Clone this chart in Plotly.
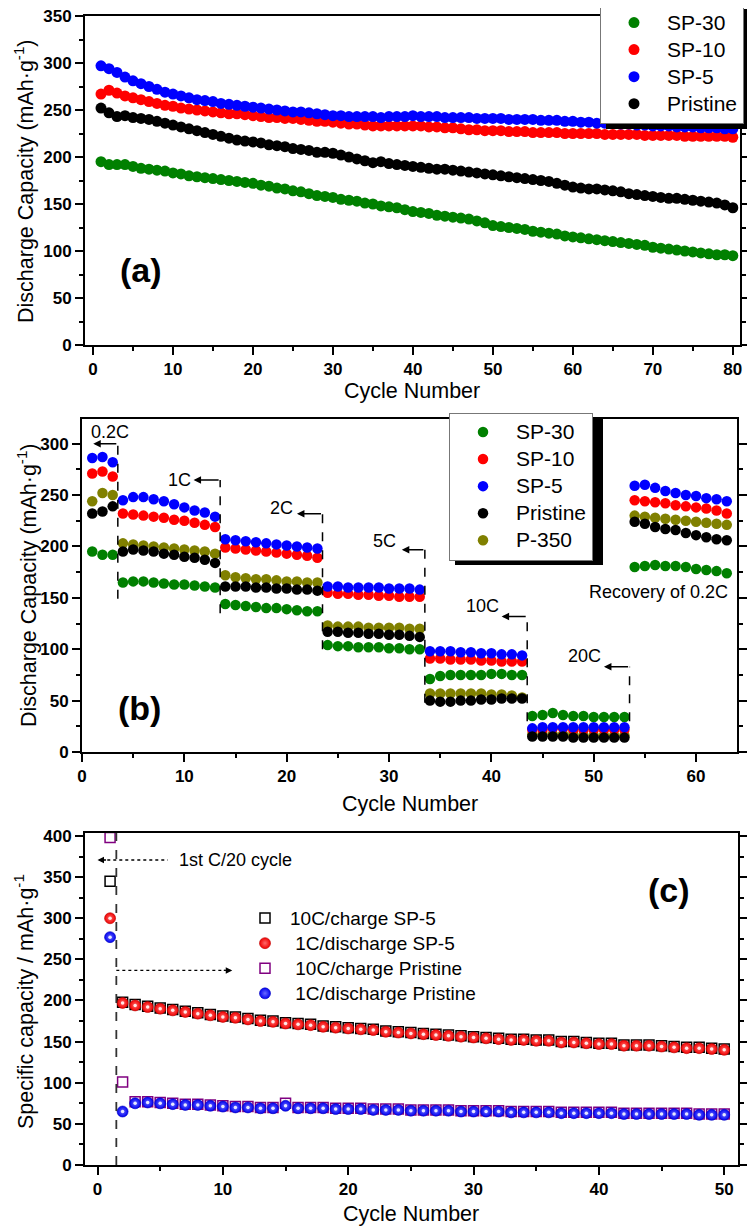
import plotly.graph_objects as go

# page body has an 8px margin: the figure is offset by 8px, so size/positions compensate for it
OFF = 8
W, H = 755 - OFF, 1230 - OFF
FONT = "Liberation Sans, Arial, sans-serif"

# ---------------- panel (a) data ----------------
cycles_a = list(range(1, 81))
sp30_a = [195, 192, 192, 192, 190, 188, 187, 186, 185, 183,
          182, 180, 179, 178, 177, 176, 175, 174, 173, 172,
          170, 169, 167, 166, 164, 163, 161, 159, 158, 157,
          155, 154, 153, 151, 150, 148, 147, 146, 144, 142,
          141, 140, 138, 137, 136, 135, 134, 132, 130, 127,
          126, 125, 124, 123, 121, 120, 119, 118, 116, 115,
          114, 113, 112, 111, 110, 109, 108, 107, 106, 104,
          103, 102, 101, 100, 99, 98, 97, 96, 96, 95]
sp10_a = [267, 271, 268, 265, 263, 261, 259, 257, 255, 254,
          252, 251, 250, 249, 248, 247, 246, 246, 245, 244,
          243, 242, 242, 241, 241, 240, 239, 238, 238, 237,
          236, 235, 235, 234, 233, 233, 233, 233, 233, 233,
          233, 232, 232, 231, 231, 230, 229, 229, 228, 228,
          228, 227, 227, 227, 226, 226, 226, 226, 225, 225,
          225, 225, 225, 224, 224, 224, 224, 224, 223, 223,
          223, 223, 223, 222, 222, 222, 222, 222, 222, 221]
sp5_a = [297, 294, 290, 285, 281, 278, 275, 272, 269, 267,
         265, 263, 261, 260, 259, 257, 256, 255, 254, 253,
         252, 251, 250, 249, 248, 248, 247, 246, 245, 244,
         244, 243, 243, 243, 243, 242, 243, 243, 243, 244,
         243, 243, 243, 242, 242, 242, 242, 241, 241, 241,
         241, 240, 240, 240, 240, 239, 239, 239, 238, 238,
         237, 237, 236, 236, 236, 235, 235, 234, 234, 233,
         233, 233, 232, 232, 232, 231, 231, 231, 230, 230]
pristine_a = [252, 247, 243, 244, 242, 241, 240, 238, 236, 234,
              232, 230, 228, 226, 224, 222, 220, 218, 217, 216,
              215, 213, 212, 211, 209, 208, 207, 205, 205, 204,
              202, 200, 198, 196, 194, 195, 193, 192, 191, 190,
              189, 188, 187, 187, 186, 185, 184, 183, 182, 181,
              180, 179, 178, 177, 176, 175, 174, 172, 170, 168,
              167, 166, 166, 165, 164, 163, 161, 160, 159, 158,
              157, 156, 156, 155, 154, 153, 152, 151, 149, 146]

# ---------------- panel (b) data ----------------
cycles_b = list(range(1, 64))
sp30_b = [195, 192, 192,
          165, 166, 166, 165, 164, 163, 163, 162, 161, 160,
          144, 143, 142, 141, 140, 140, 139, 138, 137, 137,
          104, 103, 103, 102, 102, 102, 101, 101, 100, 100,
          71, 74, 75, 75, 75, 75, 76, 76, 75, 75,
          35, 36, 38, 36, 35, 35, 34, 34, 34, 34,
          180, 181, 182, 181, 181, 180, 178, 177, 176, 174]
sp10_b = [271, 273, 268,
          232, 231, 230, 229, 228, 226, 225, 223, 221, 219,
          199, 198, 197, 196, 195, 194, 193, 192, 191, 189,
          155, 154, 154, 153, 153, 152, 152, 151, 151, 151,
          91, 91, 90, 90, 90, 89, 89, 88, 88, 88,
          22, 22, 23, 23, 22, 22, 22, 22, 22, 22,
          245, 244, 243, 242, 240, 239, 238, 237, 235, 232]
sp5_b = [286, 287, 282,
         245, 248, 248, 246, 244, 241, 238, 235, 233, 229,
         207, 206, 205, 204, 203, 202, 201, 200, 199, 198,
         161, 161, 160, 160, 160, 160, 159, 159, 159, 158,
         98, 98, 98, 97, 97, 96, 96, 95, 95, 94,
         23, 24, 24, 24, 24, 24, 24, 24, 24, 24,
         259, 260, 257, 254, 252, 250, 249, 247, 246, 244]
pristine_b = [232, 234, 239,
              195, 197, 196, 195, 193, 192, 190, 189, 187, 184,
              161, 161, 161, 160, 160, 159, 159, 158, 158, 157,
              117, 117, 116, 116, 115, 115, 114, 114, 113, 112,
              50, 49, 49, 50, 50, 51, 51, 52, 52, 52,
              15, 15, 15, 15, 14, 14, 14, 14, 14, 14,
              224, 222, 219, 217, 216, 213, 211, 209, 207, 206]
p350_b = [244, 252, 250,
          203, 202, 201, 200, 199, 198, 197, 196, 195, 193,
          172, 170, 169, 168, 168, 167, 166, 166, 165, 165,
          123, 122, 122, 122, 121, 121, 121, 121, 120, 120,
          57, 57, 57, 57, 57, 57, 56, 56, 55, 53,
          17, 17, 17, 17, 17, 16, 16, 16, 16, 16,
          230, 229, 228, 227, 226, 225, 224, 223, 222, 221]

rate_labels = ["0.2C", "1C", "2C", "5C", "10C", "20C"]
rate_bounds = [3.5, 13.5, 23.5, 33.5, 43.5, 53.5]
rate_arrow_y = [300, 264.7, 231.7, 196.7, 131.8, 83]
rate_arrow_head_x = [1.1, 10.9, 21.0, 31.25, 41.0, 51.0]
rate_line_bottom = [149, 135, 100, 48, 30, 30]
rate_text_x = [2.7, 9.5, 19.5, 29.6, 39.15, 49.1]
rate_text_y = [311, 265, 237, 205, 142, 93.5]

# ---------------- panel (c) data ----------------
cycles_c = list(range(1, 51))
charge_sp5_c = [345,
                198, 195, 193, 191, 189, 187, 185, 183, 181,
                180, 178, 176, 175, 173, 172, 171, 169, 168, 167,
                166, 165, 163, 162, 161, 160, 159, 158, 157, 156,
                155, 154, 153, 153, 152, 152, 150, 150, 149, 148,
                148, 146, 146, 146, 145, 144, 143, 143, 142, 141]
discharge_sp5_c = [300,
                   197, 194, 192, 190, 188, 186, 184, 182, 180,
                   179, 177, 175, 174, 172, 171, 170, 168, 167, 166,
                   165, 164, 162, 161, 160, 159, 158, 157, 156, 155,
                   154, 153, 152, 152, 151, 151, 149, 149, 148, 147,
                   147, 145, 145, 145, 144, 143, 142, 142, 141, 140]
charge_pristine_c = [398,
                     101, 77, 77, 76, 75, 74, 74, 73, 72,
                     71, 71, 70, 70, 75, 70, 70, 70, 69, 69,
                     69, 68, 68, 68, 67, 67, 67, 67, 66, 66,
                     66, 66, 65, 65, 65, 65, 64, 64, 64, 64,
                     64, 63, 63, 63, 63, 63, 63, 62, 62, 62]
discharge_pristine_c = [277,
                        65, 75, 76, 75, 74, 73, 73, 72, 71,
                        70, 70, 69, 69, 72, 69, 69, 69, 68, 68,
                        68, 67, 67, 67, 66, 66, 66, 66, 65, 65,
                        65, 65, 64, 64, 64, 64, 63, 63, 63, 63,
                        63, 62, 62, 62, 62, 62, 62, 61, 61, 61]
c20_line_x = 1.5

GREEN, RED, BLUE, BLACK, OLIVE, PURPLE = "#008000", "#ff0000", "#0000ff", "#000000", "#808000", "#800080"


def px_x(p):
    return (p - OFF) / W


def px_y(p):
    return 1 - (p - OFF) / H


def big(t, s=21):
    return "<span style='font-size:%dpx'>%s</span>" % (s, t)


fig = go.Figure()

# ---- panel (a) traces ----
for name, vals, col, rank in [("SP-30", sp30_a, GREEN, 1), ("SP-10", sp10_a, RED, 2),
                              ("SP-5", sp5_a, BLUE, 3), ("Pristine", pristine_a, BLACK, 4)]:
    fig.add_trace(go.Scatter(x=cycles_a, y=vals, mode="markers", name=big(name), legendrank=rank,
                             marker=dict(color=col, size=11, line=dict(width=0)),
                             xaxis="x", yaxis="y", legend="legend"))

# ---- panel (b) traces ----
for name, vals, col, rank in [("P-350", p350_b, OLIVE, 5), ("SP-30", sp30_b, GREEN, 1),
                              ("SP-10", sp10_b, RED, 2), ("SP-5", sp5_b, BLUE, 3),
                              ("Pristine", pristine_b, BLACK, 4)]:
    fig.add_trace(go.Scatter(x=cycles_b, y=vals, mode="markers", name=big(name), legendrank=rank,
                             marker=dict(color=col, size=10.5, line=dict(width=0)),
                             xaxis="x2", yaxis="y2", legend="legend2"))

# ---- panel (c) traces ----
fig.add_trace(go.Scatter(x=cycles_c, y=charge_sp5_c, mode="markers", name=big("10C/charge SP-5", 19),
                         legendrank=1,
                         marker=dict(symbol="square-open", color=BLACK, size=10, line=dict(width=1.5)),
                         xaxis="x3", yaxis="y3", legend="legend3"))
fig.add_trace(go.Scatter(x=cycles_c, y=discharge_sp5_c, mode="markers", name=big("\u00a01C/discharge SP-5", 19),
                         legendrank=2,
                         marker=dict(color="#f00000", size=11, line=dict(width=0.6, color="#c00000"),
                                     gradient=dict(type="radial", color="#ff6a6a")),
                         xaxis="x3", yaxis="y3", legend="legend3"))
fig.add_trace(go.Scatter(x=cycles_c, y=discharge_sp5_c, mode="markers", showlegend=False, hoverinfo="skip",
                         marker=dict(color="#ffe8e8", size=3.5, line=dict(width=0)),
                         xaxis="x3", yaxis="y3", legend="legend3"))
fig.add_trace(go.Scatter(x=cycles_c, y=charge_pristine_c, mode="markers",
                         name=big("\u00a010C/charge Pristine", 19), legendrank=3,
                         marker=dict(symbol="square-open", color=PURPLE, size=10, line=dict(width=1.5)),
                         xaxis="x3", yaxis="y3", legend="legend3"))
fig.add_trace(go.Scatter(x=cycles_c, y=discharge_pristine_c, mode="markers",
                         name=big("\u00a01C/discharge Pristine", 19), legendrank=4,
                         marker=dict(color="#0000f0", size=11, line=dict(width=0.6, color="#0000c0"),
                                     gradient=dict(type="radial", color="#6a6aff")),
                         xaxis="x3", yaxis="y3", legend="legend3"))
fig.add_trace(go.Scatter(x=cycles_c, y=discharge_pristine_c, mode="markers", showlegend=False, hoverinfo="skip",
                         marker=dict(color="#e8e8ff", size=3.5, line=dict(width=0)),
                         xaxis="x3", yaxis="y3", legend="legend3"))


def xax(domain, rng, anchor):
    return dict(domain=domain, range=rng, anchor=anchor, automargin=False, showline=True, linecolor="black",
                linewidth=2, mirror=True, ticks="outside", ticklen=8, tickwidth=2, tickcolor="black",
                dtick=10, tick0=0, showgrid=False, zeroline=False, ticklabeloverflow="allow",
                tickfont=dict(family=FONT, size=17, color="black", weight="bold"),
                minor=dict(ticks="outside", ticklen=4, tickwidth=2, tickcolor="black", dtick=5, showgrid=False))


def yax(domain, rng, anchor):
    return dict(domain=domain, range=rng, anchor=anchor, automargin=False, showline=True, linecolor="black",
                linewidth=2, mirror="ticks", ticks="outside", ticklen=8, tickwidth=2, tickcolor="black",
                dtick=50, tick0=0, showgrid=False, zeroline=False, ticklabeloverflow="allow",
                tickfont=dict(family=FONT, size=17, color="black", weight="bold"),
                minor=dict(ticks="outside", ticklen=4, tickwidth=2, tickcolor="black", dtick=25, showgrid=False))


legend_common = dict(font=dict(family=FONT, size=18.5, color="black"), bgcolor="white",
                     bordercolor="#777777", borderwidth=1, xanchor="left", yanchor="top",
                     tracegroupgap=0, itemsizing="trace", itemwidth=56)

fig.update_layout(
    width=W, height=H, margin=dict(l=0, r=0, t=0, b=0, autoexpand=False),
    paper_bgcolor="white", plot_bgcolor="white",
    font=dict(family=FONT, color="black"),
    xaxis=xax([px_x(85), px_x(740)], [-1, 80.9], "y"),
    yaxis=yax([px_y(345), px_y(16)], [0, 350], "x"),
    xaxis2=xax([px_x(82), px_x(737)], [0, 64], "y2"),
    yaxis2=yax([px_y(752), px_y(419)], [0, 324], "x2"),
    xaxis3=xax([px_x(85), px_x(738)], [-1, 51.1], "y3"),
    yaxis3=yax([px_y(1165), px_y(833)], [0, 403.6], "x3"),
    legend=dict(legend_common, x=px_x(600), y=px_y(3)),
    legend2=dict(legend_common, x=px_x(449), y=px_y(412.5)),
    legend3=dict(font=dict(family=FONT, size=17, color="black"), bgcolor="rgba(0,0,0,0)",
                 borderwidth=0, xanchor="left", yanchor="top", x=px_x(240), y=px_y(900.5), itemwidth=40,
                 tracegroupgap=0),
    showlegend=True,
)

shapes = []
# legend shadows
shapes.append(dict(type="rect", xref="paper", yref="paper", x0=px_x(606), x1=px_x(750),
                   y0=px_y(129), y1=px_y(9), fillcolor="black", line=dict(width=0), layer="above"))
shapes.append(dict(type="rect", xref="paper", yref="paper", x0=px_x(455), x1=px_x(603),
                   y0=px_y(565), y1=px_y(418), fillcolor="black", line=dict(width=0), layer="above"))

annotations = []
# rate markers in (b)
for lab, bx, ay, hx, yb, tx, ty in zip(rate_labels, rate_bounds, rate_arrow_y, rate_arrow_head_x,
                                       rate_line_bottom, rate_text_x, rate_text_y):
    shapes.append(dict(type="line", xref="x2", yref="y2", x0=bx, x1=bx, y0=yb, y1=ay,
                       line=dict(color="black", width=1.5, dash="dash")))
    annotations.append(dict(xref="x2", yref="y2", axref="x2", ayref="y2", x=hx, y=ay, ax=bx, ay=ay,
                            showarrow=True, arrowhead=2, arrowsize=1, arrowwidth=1.5, arrowcolor="black",
                            text=""))
    annotations.append(dict(xref="x2", yref="y2", x=tx, y=ty, text=lab, showarrow=False,
                            xanchor="center", yanchor="middle",
                            font=dict(family=FONT, size=18, color="black")))
annotations.append(dict(xref="x2", yref="y2", x=56.3, y=155.8, text="Recovery of 0.2C", showarrow=False,
                        xanchor="center", yanchor="middle",
                        font=dict(family=FONT, size=18, color="black")))

# panel (c) guides
shapes.append(dict(type="line", xref="x3", yref="y3", x0=c20_line_x, x1=c20_line_x, y0=0, y1=403.6,
                   line=dict(color="#333333", width=1.8, dash="dash")))
shapes.append(dict(type="line", xref="x3", yref="y3", x0=0.3, x1=5.6, y0=370.8, y1=370.8,
                   line=dict(color="black", width=1.3, dash="dot")))
annotations.append(dict(xref="x3", yref="y3", x=0.0, y=370.8, ax=10, ay=0, showarrow=True, arrowhead=2,
                        arrowwidth=1.3, arrowcolor="black", text=""))
shapes.append(dict(type="line", xref="x3", yref="y3", x0=c20_line_x, x1=10.2, y0=236.5, y1=236.5,
                   line=dict(color="black", width=1.3, dash="dot")))
annotations.append(dict(xref="x3", yref="y3", x=10.75, y=236.5, ax=-10, ay=0, showarrow=True, arrowhead=2,
                        arrowwidth=1.3, arrowcolor="black", text=""))
annotations.append(dict(xref="x3", yref="y3", x=6.3, y=370.8, xanchor="left", yanchor="middle",
                        text="1st C/20 cycle",
                        showarrow=False, font=dict(family=FONT, size=18, color="black")))

# panel labels
for lab, x, y in [("(a)", 141, 270), ("(b)", 139, 708), ("(c)", 669, 890)]:
    annotations.append(dict(xref="paper", yref="paper", x=px_x(x), y=px_y(y), text="<b>" + lab + "</b>",
                            xanchor="center", yanchor="middle",
                            showarrow=False, font=dict(family=FONT, size=34, color="black")))

# axis titles
TF = dict(family=FONT, size=21.5, color="black")
for txt, x, y, ang in [("Discharge Capacity (mAh·g<sup>-1</sup>)", 24, 182, -90),
                       ("Cycle Number", 412, 391, 0),
                       ("Discharge Capacity (mAh·g<sup>-1</sup>)", 27, 586, -90),
                       ("Cycle Number", 410, 804, 0),
                       ("Specific capacity / mAh·g<sup>-1</sup>", 24, 1002, -90),
                       ("Cycle Number", 411, 1214, 0)]:
    annotations.append(dict(xref="paper", yref="paper", x=px_x(x), y=px_y(y), text=txt, textangle=ang,
                            xanchor="center", yanchor="middle",
                            showarrow=False, font=TF))

fig.update_layout(shapes=shapes, annotations=annotations)
fig.write_html("out.html")
